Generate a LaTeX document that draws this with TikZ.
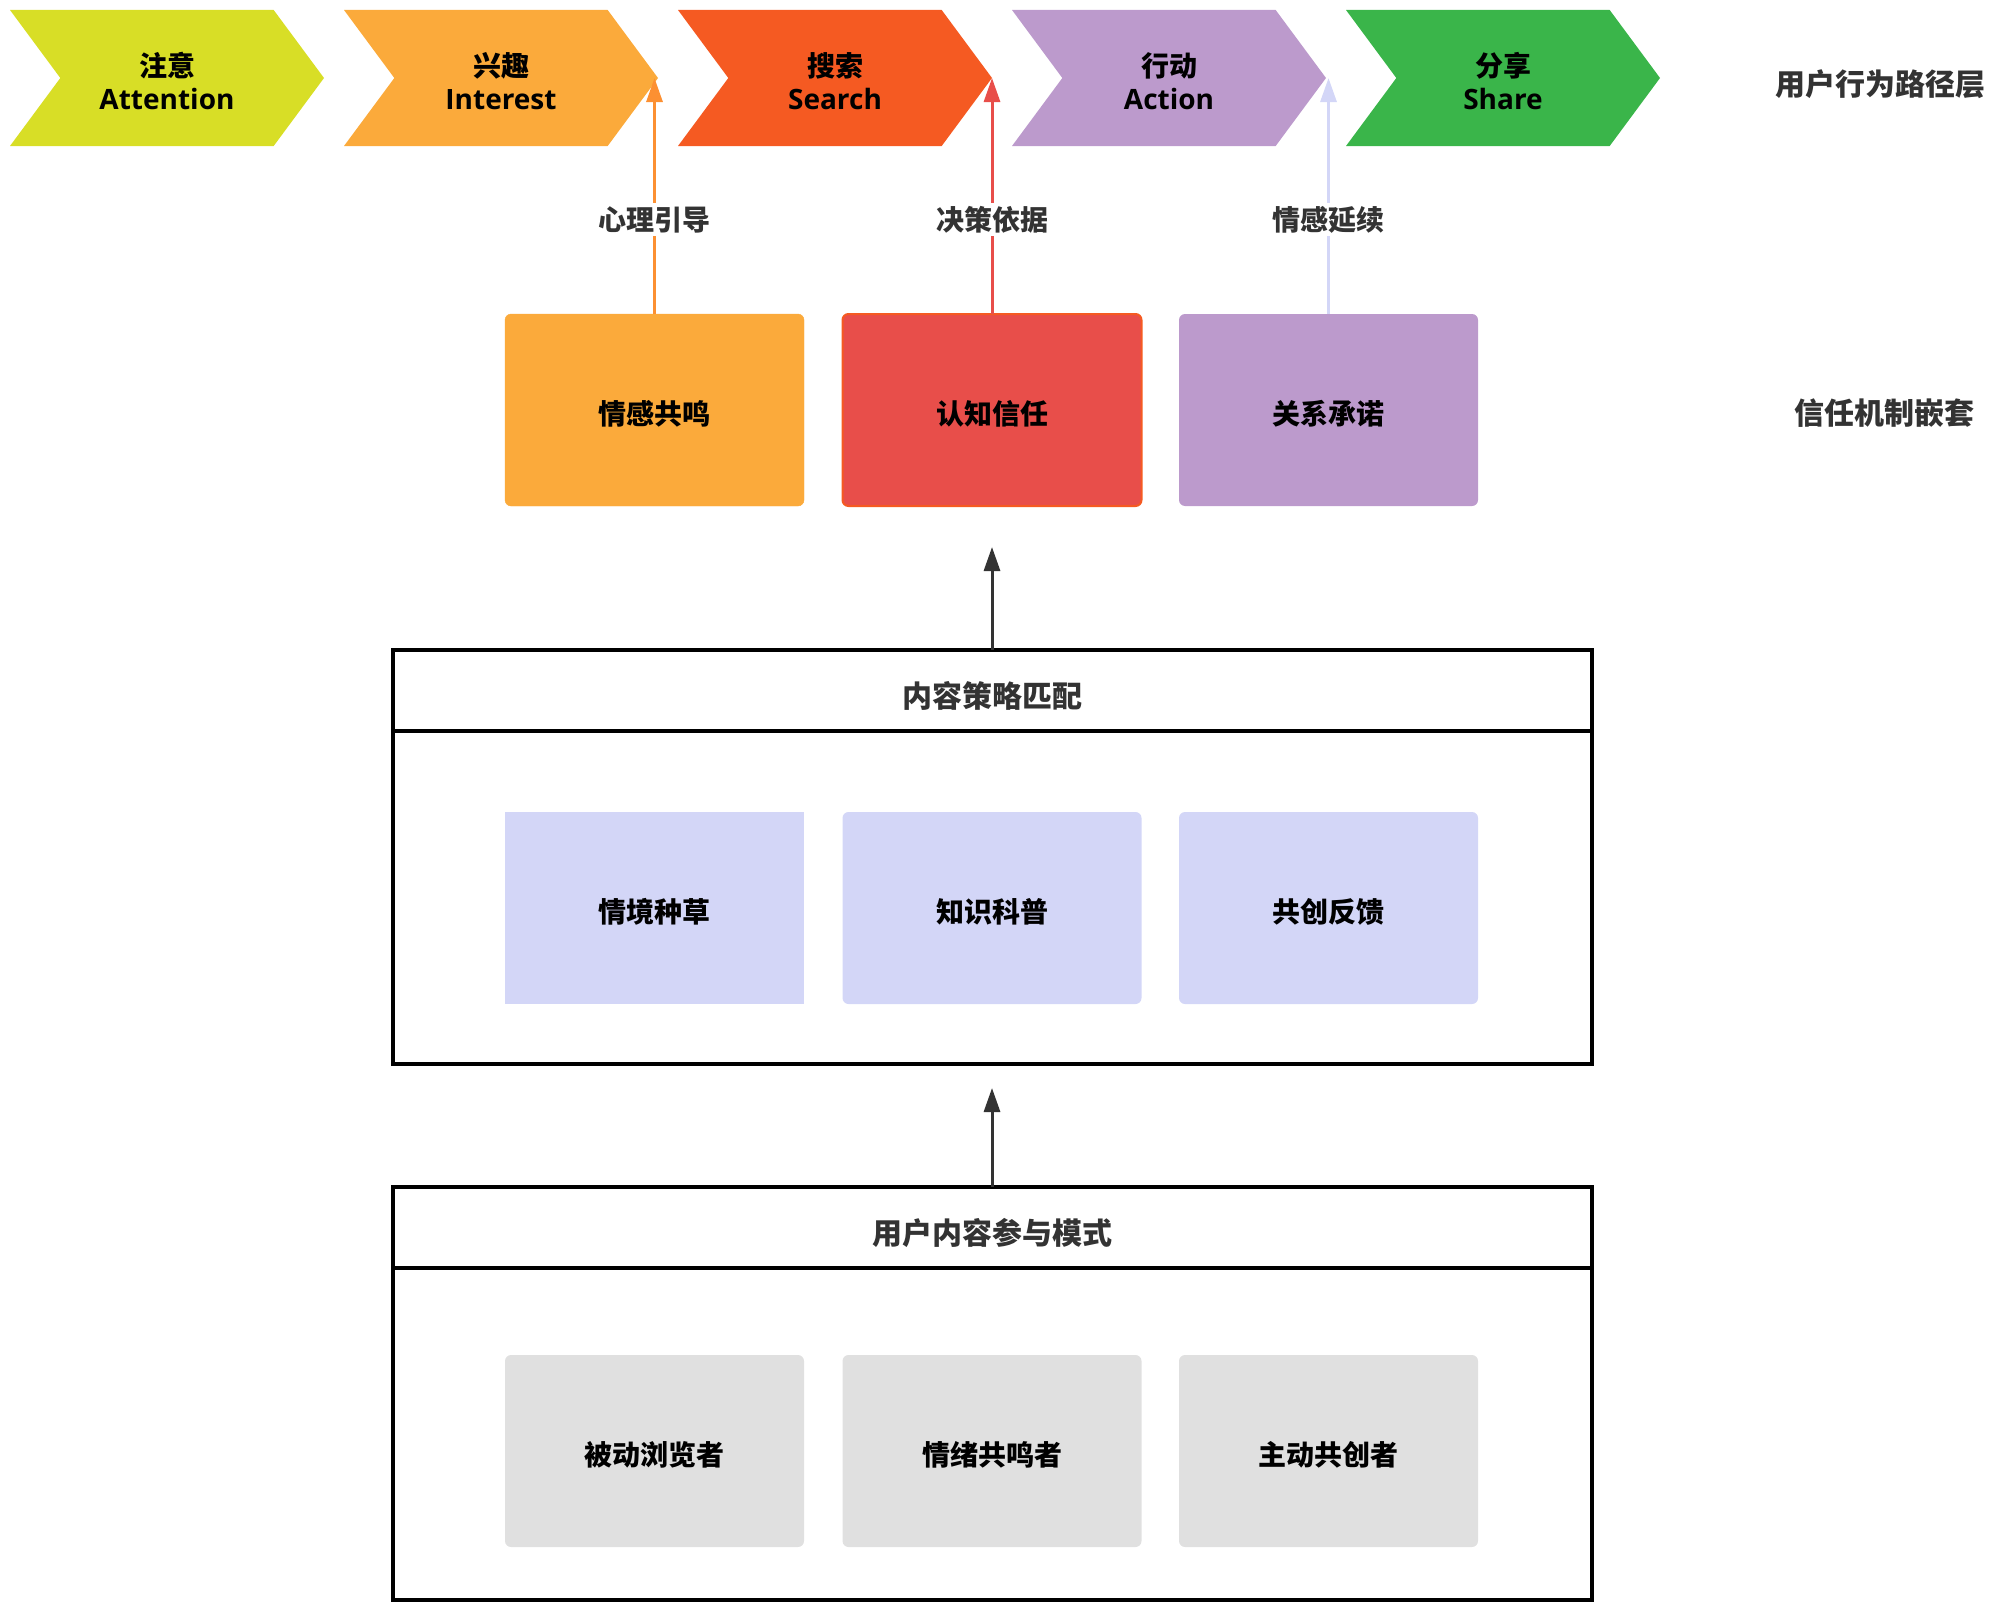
\documentclass[tikz,border=0pt]{standalone}
\usepackage{fontspec}
\setmainfont{Open Sans}
\newfontfamily\cjk{Noto Sans CJK SC}
\usepackage{tikz}
\usetikzlibrary{shapes.symbols, positioning, arrows.meta}

\definecolor{attcol}{HTML}{D8DE26}
\definecolor{intcol}{HTML}{FBAA3B}
\definecolor{seacol}{HTML}{F55A22}
\definecolor{actcol}{HTML}{BC9ACC}
\definecolor{shacol}{HTML}{3AB54A}
\definecolor{cogcol}{HTML}{E84E4A}
\definecolor{lavcol}{HTML}{D3D6F7}
\definecolor{greycol}{HTML}{E0E0E0}
\definecolor{inkcol}{HTML}{333333}

\begin{document}
\begin{tikzpicture}[x=1pt,y=-1pt,
chevron/.style={signal, signal from=west, signal to=east, signal pointer angle=107,
	minimum width=314pt, minimum height=136pt, inner sep=0pt, outer sep=0pt, text height=63pt,
	align=center, text=black, font=\bfseries\fontsize{28}{33}\selectfont},
card/.style={rectangle, rounded corners=6pt, minimum width=299pt, minimum height=192pt,
	inner sep=0pt, outer sep=0pt, text height=28pt, text depth=0pt,
	text=black, font=\cjk\bfseries\fontsize{28}{33}\selectfont},
lbl/.style={fill=white, inner sep=3pt, text=inkcol, font=\cjk\bfseries\fontsize{28}{33}\selectfont},
layer/.style={text=inkcol, font=\cjk\bfseries\fontsize{30}{36}\selectfont},
head/.style={draw=black, line width=4pt, minimum width=1199pt, minimum height=81pt,
	inner sep=0pt, outer sep=0pt, text height=34pt, text depth=0pt,
	text=inkcol, font=\cjk\bfseries\fontsize{30}{36}\selectfont},
body/.style={draw=black, line width=4pt, minimum width=1199pt, minimum height=333pt,
	inner sep=0pt, outer sep=0pt},
up/.style={line width=3pt, -{Triangle[length=24pt,width=16pt]}}
]
\useasboundingbox (0,0) rectangle (2000,1611);

% user path
\node[chevron, fill=attcol] (att) at (167,78) {{\cjk 注意}\\Attention};
\node[chevron, fill=intcol] (int) at (501,78) {{\cjk 兴趣}\\Interest};
\node[chevron, fill=seacol] (sea) at (835,78) {{\cjk 搜索}\\Search};
\node[chevron, fill=actcol] (act) at (1169,78) {{\cjk 行动}\\Action};
\node[chevron, fill=shacol] (sha) at (1503,78) {{\cjk 分享}\\Share};
\node[layer] (pathlbl) at (1880,84) {用户行为路径层};

% trust
\node[card, fill=intcol, draw=intcol] (emo) at (654.5,410) {情感共鸣};
\node[card, fill=cogcol, draw=seacol, line width=2pt] (cog) at (992,410) {认知信任};
\node[card, fill=actcol] (rel) at (1328.5,410) {关系承诺};
\node[layer] (trustlbl) at (1884,413) {信任机制嵌套};

\draw[up, draw=intcol!85!red] (emo.north) -- node[lbl, pos=0.4] {心理引导} (emo.north |- int.east);
\draw[up, draw=cogcol] (cog.north) -- node[lbl, pos=0.4] {决策依据} (cog.north |- sea.east);
\draw[up, draw=lavcol] (rel.north) -- node[lbl, pos=0.4] {情感延续} (rel.north |- act.east);

% content strategy
\node[head] (strathead) at (992,690.5) {内容策略匹配};
\node[body, below=0pt of strathead] (stratbody) {};
\node[card, fill=lavcol, sharp corners] (scene) at (654.5,908) {情境种草};
\node[card, fill=lavcol] (know) at (992,908) {知识科普};
\node[card, fill=lavcol] (cocr) at (1328.5,908) {共创反馈};
\draw[up, draw=inkcol, shorten >=41pt] (strathead.north) -- (cog.south);

% user participation
\node[head] (userhead) at (992,1227) {用户内容参与模式};
\node[body, below=0pt of userhead, minimum height=332pt] (userbody) {};
\node[card, fill=greycol] (pass) at (654.5,1451) {被动浏览者};
\node[card, fill=greycol] (emot) at (992,1451) {情绪共鸣者};
\node[card, fill=greycol] (actv) at (1328.5,1451) {主动共创者};
\draw[up, draw=inkcol, shorten >=24pt] (userhead.north) -- (stratbody.south);
\end{tikzpicture}
\end{document}
